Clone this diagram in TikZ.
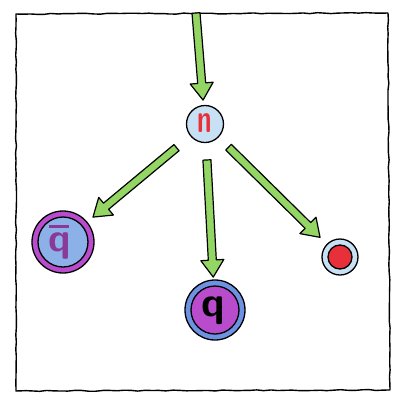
\documentclass[tikz,border=0pt]{standalone}
\usetikzlibrary{calc,decorations.pathmorphing}
\usepackage{graphicx}
\definecolor{agreen}{RGB}{148,214,100}
\definecolor{paleblue}{RGB}{200,224,244}
\definecolor{qpurple}{RGB}{184,76,204}
\definecolor{qblue}{RGB}{140,176,232}
\definecolor{ringblue}{RGB}{110,146,226}
\definecolor{dotred}{RGB}{232,48,58}
\tikzset{
  ink/.style={draw=black,line width=1.3pt},
  fatarrowstyle/.style={fill=agreen,draw=black,line width=1.2pt,line join=round},
  glyph/.style={inner sep=0pt,font=\sffamily\bfseries},
  sketchy/.style={decorate,decoration={random steps,segment length=7pt,amplitude=0.5pt}},
}
\newcommand{\fatarrow}[2]{%
  \coordinate (tmpH) at ($(#2)!17pt!(#1)$);
  \path[fatarrowstyle]
    ($(#1)!4pt!90:(#2)$) -- ($(tmpH)!4pt!90:(#2)$) -- ($(tmpH)!11.5pt!90:(#2)$)
    -- (#2) -- ($(tmpH)!11.5pt!-90:(#2)$) -- ($(tmpH)!4pt!-90:(#2)$)
    -- ($(#1)!4pt!-90:(#2)$) -- cycle;
}
\begin{document}
\begin{tikzpicture}[x=1pt,y=-1pt]
\useasboundingbox[fill=white] (0,0) rectangle (400,400);
% frame
\draw[line width=1.4pt,line join=round,sketchy] (16,14) -- (388,13) -- (390,390) -- (16,391) -- cycle;
% top node
\node[circle,ink,fill=paleblue,minimum size=37pt,inner sep=0pt] (n) at (205,124) {};
\node[glyph,text=dotred] (nt) at (205,123) {\fontsize{36}{36}\selectfont\scalebox{0.72}[1.12]{n}};
% left node
\node[circle,ink,fill=qpurple,minimum size=62pt,inner sep=0pt] (q1) at (63,242) {};
\draw[ink,fill=qblue] (q1) circle (25);
\node[glyph,text=qpurple!75!black,anchor=base] (q1t) at (60,251) {\fontsize{40}{40}\selectfont\rlap{\hspace{0.01em}\raisebox{0.58em}{\rule{0.5em}{0.08em}}}q};
% bottom node
\node[circle,ink,fill=ringblue,minimum size=60pt,inner sep=0pt] (q2) at (215,310) {};
\draw[ink,fill=qpurple] (q2) circle (24);
\node[glyph,text=black,anchor=base] (q2t) at (213,316) {\fontsize{42}{42}\selectfont q};
% right node
\node[circle,ink,fill=paleblue,minimum size=36pt,inner sep=0pt] (q3) at (340,257) {};
\draw[ink,fill=dotred] (q3) circle (12);
% arrows
\coordinate (src) at (196,13);
\coordinate (a0e) at ($(n)!24pt!(src)$);
\coordinate (a1s) at ($(n)!37pt!(q1)$);
\coordinate (a1e) at ($(q1)!39pt!(n)$);
\coordinate (a2s) at ($(n)!36pt!(q2)$);
\coordinate (a2e) at ($(q2)!33pt!(n)$);
\coordinate (a3s) at ($(n)!33pt!(q3)$);
\coordinate (a3e) at ($(q3)!28pt!(n)$);
\fatarrow{src}{a0e}
\fatarrow{a1s}{a1e}
\fatarrow{a2s}{a2e}
\fatarrow{a3s}{a3e}
\end{tikzpicture}
\end{document}
